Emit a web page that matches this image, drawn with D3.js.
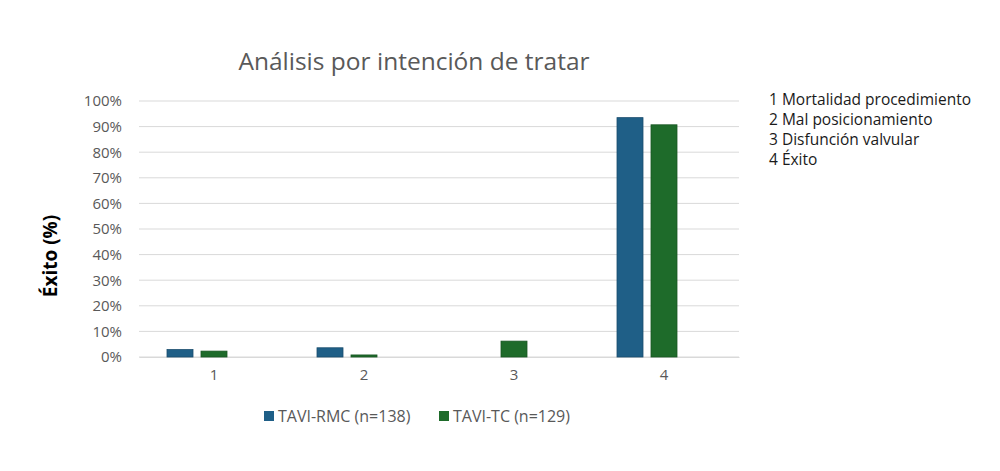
<!DOCTYPE html>
<html><head><meta charset="utf-8">
<script src="https://cdn.jsdelivr.net/npm/d3@7"></script>
<style>body{margin:0;background:#fff;font-family:"Open Sans",Roboto,sans-serif;}</style>
</head><body>
<svg id="c" width="1000" height="471"></svg>
<script>
const categories = ["1","2","3","4"];
const seriesNames = ["TAVI-RMC (n=138)","TAVI-TC (n=129)"];
const rmcValues = [2.9, 3.6, 0, 93.5];
const tcValues = [2.3, 0.8, 6.2, 90.7];
const yTicks = [0,10,20,30,40,50,60,70,80,90,100];
const notes = ["1 Mortalidad procedimiento","2 Mal posicionamiento","3 Disfunción valvular","4 Éxito"];
const colors = ["#1f5f87","#1e6b2a"];

const svg = d3.select("#c");
const x0 = d3.scaleBand().domain(categories).range([139,739]);
// three slots per group (third slot empty, as in the original chart)
const x1 = d3.scaleBand().domain([0,1,2]).range([0,94]).paddingInner(8/34);
const y = d3.scaleLinear().domain([0,100]).range([357,101]);

svg.append("g").selectAll("line").data(yTicks).join("line")
  .attr("x1",139).attr("x2",739).attr("y1",d=>y(d)).attr("y2",d=>y(d))
  .attr("stroke","#d9d9d9").attr("stroke-width",1);

const ya = svg.append("g").attr("transform","translate(124,0)")
  .call(d3.axisLeft(y).tickValues(yTicks).tickFormat(d=>d+"%").tickSize(0).tickPadding(2));
ya.select(".domain").remove();
ya.selectAll("text").attr("fill","#595959").style("font-size","15px").style("font-family","'Open Sans',sans-serif");

const xa = svg.append("g").attr("transform","translate(0,357)")
  .call(d3.axisBottom(x0).tickSize(0).tickPadding(12));
xa.select(".domain").attr("stroke","#d9d9d9");
xa.selectAll("text").attr("fill","#595959").style("font-size","15px").style("font-family","'Open Sans',sans-serif");

const series = [rmcValues, tcValues];
const g = svg.append("g");
categories.forEach((c,i)=>{
  series.forEach((vals,s)=>{
    const v = vals[i];
    if (v<=0) return;
    const gx = x0(c) + x0.bandwidth()/2 - 47;
    g.append("rect")
      .attr("x", gx + x1(s)).attr("width", x1.bandwidth())
      .attr("y", y(v)).attr("height", y(0)-y(v))
      .attr("fill", colors[s]).attr("stroke", d3.color(colors[s]).darker(0.6)).attr("stroke-width",0.8);
  });
});

svg.append("text").attr("x",414).attr("y",70).attr("text-anchor","middle")
  .attr("fill","#595959").style("font-size","24.5px").style("font-family","'Open Sans',sans-serif")
  .text("Análisis por intención de tratar");

svg.append("text").attr("transform","translate(57,256) rotate(-90)").attr("text-anchor","middle")
  .attr("fill","#000").style("font-size","19px").style("font-weight","bold").style("font-family","'Open Sans',sans-serif")
  .text("Éxito (%)");

const legX = [264, 439];
seriesNames.forEach((n,s)=>{
  svg.append("rect").attr("x",legX[s]).attr("y",411).attr("width",10).attr("height",10).attr("fill",colors[s]);
  svg.append("text").attr("x",legX[s]+14).attr("y",422).attr("fill","#595959")
    .style("font-size","16px").style("font-family","'Open Sans',sans-serif").text(n);
});

notes.forEach((t,i)=>{
  svg.append("text").attr("x",769).attr("y",105+i*20).attr("fill","#1a1a1a")
    .style("font-size","15.5px").style("font-family","'Open Sans',sans-serif").text(t);
});
</script>
</body></html>
